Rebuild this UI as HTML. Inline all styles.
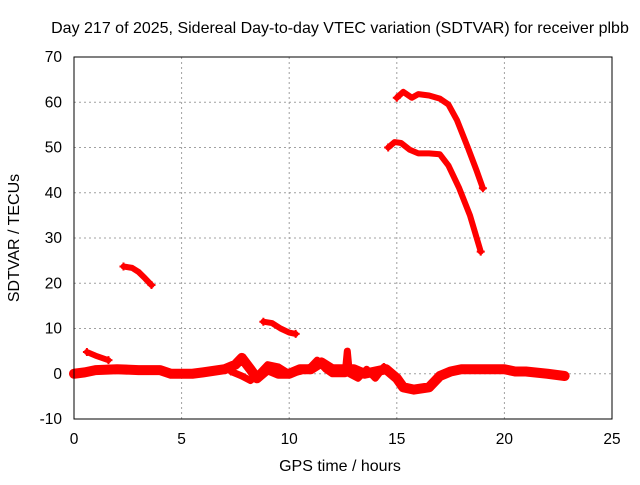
<!DOCTYPE html>
<html><head><meta charset="utf-8"><style>
body{margin:0;background:#fff}
svg text{font-family:"Liberation Sans",sans-serif;font-size:16px;fill:#000}
svg text.tick{font-size:15.5px}
</style></head><body>
<svg id="chart" width="640" height="480" xmlns="http://www.w3.org/2000/svg">
<rect width="640" height="480" fill="#fff"/>
<text x="340" y="33" text-anchor="middle">Day 217 of 2025, Sidereal Day-to-day VTEC variation (SDTVAR) for receiver plbb</text>
<text x="340" y="471" text-anchor="middle">GPS time / hours</text>
<text transform="translate(19,238) rotate(-90)" text-anchor="middle">SDTVAR / TECUs</text>
<g id="grid"></g><g id="ticks"></g><g id="series"></g>
<rect x="74" y="57" width="538" height="362" fill="none" stroke="#000" stroke-width="1"/>
</svg>
<script>
const xTicks=[0,5,10,15,20,25];
const yTicks=[-10,0,10,20,30,40,50,60,70];
const segLowA_x=[0.6,1.0,1.6];
const segLowA_y=[4.8,4.0,3.0];
const segB_x=[2.3,2.7,3.0,3.3,3.6];
const segB_y=[23.7,23.4,22.5,21.1,19.6];
const segC_x=[8.8,9.2,9.6,10.0,10.3];
const segC_y=[11.5,11.2,10.0,9.1,8.8];
const segTop_x=[15.0,15.3,15.7,16.0,16.5,17.0,17.4,17.8,18.3,18.7,19.0];
const segTop_y=[61.0,62.3,61.0,61.8,61.5,60.8,59.5,56.0,50.0,45.0,41.0];
const segMid_x=[14.6,14.9,15.2,15.6,16.0,16.5,17.0,17.4,17.9,18.4,18.9];
const segMid_y=[50.0,51.2,51.0,49.5,48.7,48.7,48.5,46.0,41.0,35.0,27.0];
const base_x=[0,0.5,1,2,3,4,4.5,5,5.5,6,7,7.5,7.8,8.2,8.5,9,9.5,10,10.5,11,11.5,12,12.5,13,13.5,14,14.5,15,15.3,15.8,16.5,17,17.5,18,19,20,20.5,21,22,22.8];
const base_y=[0,0.3,0.8,1,0.8,0.8,0,0,0,0.3,1,2,3.5,1,-1,1,0,0,1,1,2.5,1,1,1,0,0.5,1,-1,-3,-3.5,-3,-0.5,0.5,1,1,1,0.5,0.5,0,-0.5];
const noise_x=[7.3,7.8,8.2,8.6,9.0,9.5,10.0,10.5,11.0,11.3,11.7,12.0,12.6,12.7,12.8,13.2,13.6,14.0,14.4];
const noise_y=[0.5,-0.5,-1.5,0,2,1.5,0,0.5,1.5,3,1,0,0,5,0,-1,1,-1,1.5];
const X=v=>74+v*538/25, Y=v=>419-(v+10)*362/80;
const NS="http://www.w3.org/2000/svg";
const grid=document.getElementById('grid'),ticks=document.getElementById('ticks'),ser=document.getElementById('series');
function mk(t,a,p){const e=document.createElementNS(NS,t);for(const k in a)e.setAttribute(k,a[k]);p.appendChild(e);return e;}
xTicks.forEach(v=>{
 if(v>0&&v<25){const g=mk('line',{x1:X(v),x2:X(v),y1:57,y2:419,stroke:'#a0a0a0','stroke-dasharray':'2,3'},grid);
 
 }
 const t=mk('text',{x:X(v),y:444,'text-anchor':'middle','class':'tick'},ticks);t.textContent=v;
 
 
});
yTicks.forEach(v=>{
 if(v>-10&&v<70){const g=mk('line',{x1:74,x2:612,y1:Y(v),y2:Y(v),stroke:'#a0a0a0','stroke-dasharray':'2,3'},grid);
 
 }
 const t=mk('text',{x:62,y:Y(v)+5,'text-anchor':'end','class':'tick'},ticks);t.textContent=v;
 
 
});
function series(xs,ys,w,name){
 const pts=xs.map((x,i)=>X(x)+','+Y(ys[i])).join(' ');
 const p=mk('polyline',{points:pts,fill:'none',stroke:'#ff0000','stroke-width':w,'stroke-linejoin':'round','stroke-linecap':'round'},ser);
 
 
 [0,xs.length-1].forEach(i=>{
  const c=mk('path',{d:`M${X(xs[i])-4},${Y(ys[i])}h8M${X(xs[i])},${Y(ys[i])-4}v8`,stroke:'#ff0000','stroke-width':2},ser);
  
  
 });
}
series(base_x,base_y,10,'baseline-series');
series(noise_x,noise_y,7,'baseline-noise-series');
series(segLowA_x,segLowA_y,6,'low-arc-series');
series(segB_x,segB_y,6,'arc-20-series');
series(segC_x,segC_y,6,'arc-10-series');
series(segTop_x,segTop_y,6,'top-arc-series');
series(segMid_x,segMid_y,6,'mid-arc-series');
</script>
</body></html>
